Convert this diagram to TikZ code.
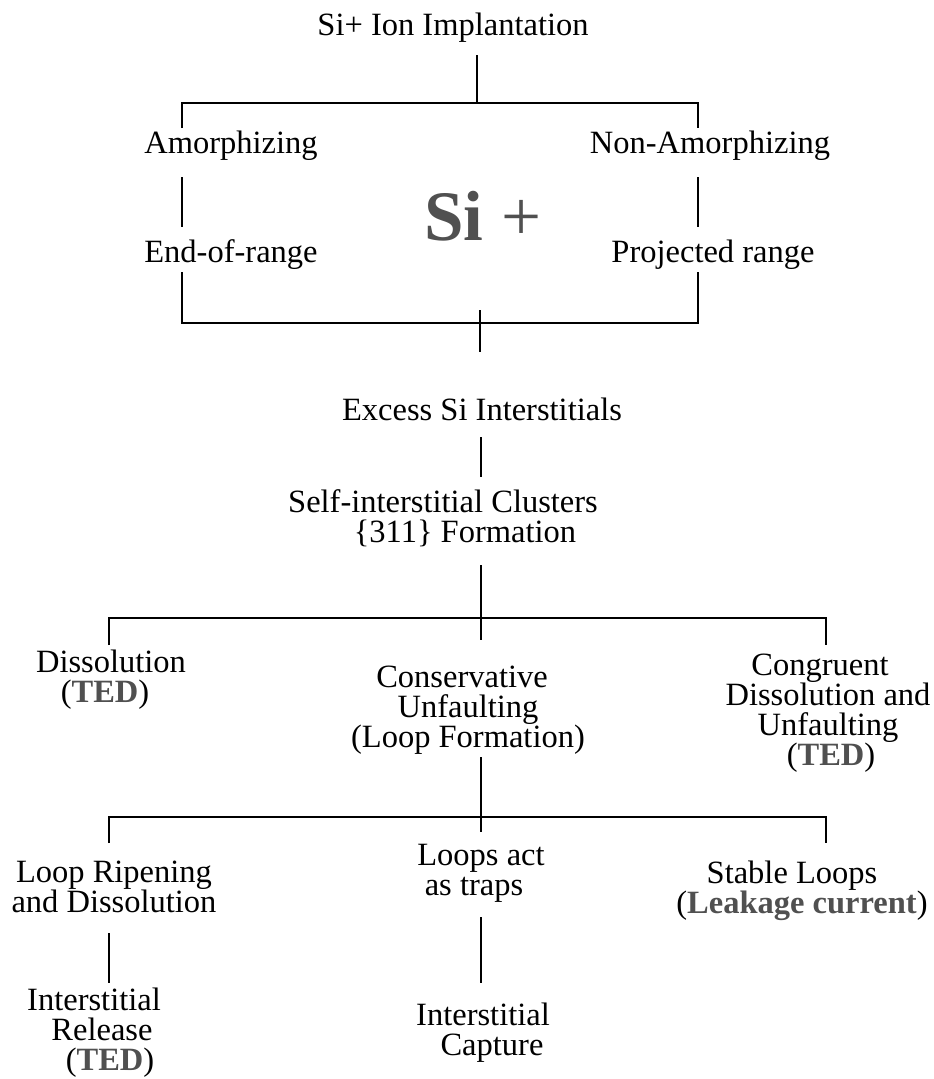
\documentclass[tikz,border=0pt]{standalone}
\usepackage{fontspec}
\setmainfont{Liberation Serif}
\usepackage{tikz}
\usetikzlibrary{positioning}
\definecolor{DarkGrey}{HTML}{505050}
\newcommand{\ted}[1]{\textcolor{DarkGrey}{\textbf{#1}}}

\begin{document}
\begin{tikzpicture}[x=1pt, y=-1pt]
    \tikzset{
      lbl/.style={inner sep=0pt, anchor=base, align=center, font=\fontsize{32.5}{30}\selectfont},
      branch/.style={line width=1.8pt}
    }
    \useasboundingbox (0,0) rectangle (934,1079);

    % texts (anchored at the baseline of the last line)
    \node[lbl] (implant) at (453,35) {Si+ Ion Implantation};
    \node[lbl] (amor) at (231,153) {Amorphizing};
    \node[lbl] (nonamor) at (710,153) {Non-Amorphizing};
    \node[lbl] (eor) at (231,262) {End-of-range};
    \node[lbl] (projr) at (713,262) {Projected range};
    \node[inner sep=0pt, anchor=base, font=\fontsize{71}{71}\selectfont, text=DarkGrey] (siplus) at (483,240) {\textbf{Si} +};
    \node[lbl] (excess) at (482,420) {Excess Si Interstitials};
    \node[lbl] (clusters) at (443,542) {Self-interstitial Clusters\\\hspace*{44pt}\{311\} Formation};
    \node[lbl] (dissol) at (111,702) {Dissolution\\(\ted{TED})\hspace*{12pt}};
    \node[lbl] (conserv) at (468,747) {Conservative\hspace*{12pt}\\Unfaulting\hspace*{12pt}\\(Loop Formation)};
    \node[lbl] (congru) at (828,765) {Congruent\hspace*{16pt}\\Dissolution and\\Unfaulting\hspace*{6pt}\\\hspace*{6pt}(\ted{TED})};
    \node[lbl] (ripen) at (114,912) {Loop Ripening\\and Dissolution};
    \node[lbl] (traps) at (481,895) {Loops act\\as traps\hspace*{14pt}};
    \node[lbl] (stable) at (802,913) {Stable Loops\hspace*{20pt}\\(\ted{Leakage current})};
    \node[lbl] (release) at (94,1070) {Interstitial\\\hspace*{16pt}Release\\\hspace*{32pt}(\ted{TED})};
    \node[lbl] (capture) at (483,1055) {Interstitial\\\hspace*{18pt}Capture};

    % line ends
    \coordinate (implant-s) at (477,55);
    \coordinate (top-mid) at (477,103);
    \coordinate (top-l) at (182,103);
    \coordinate (top-r) at (698,103);
    \coordinate (amor-n) at (182,128);
    \coordinate (nonamor-n) at (698,128);
    \coordinate (amor-s) at (182,177);
    \coordinate (eor-n) at (182,227);
    \coordinate (nonamor-s) at (698,177);
    \coordinate (projr-n) at (698,227);
    \coordinate (eor-s) at (182,272);
    \coordinate (projr-s) at (698,272);
    \coordinate (bot-l) at (182,323);
    \coordinate (bot-r) at (698,323);
    \coordinate (bot-mid-a) at (480,310);
    \coordinate (excess-n) at (480,352);
    \coordinate (excess-s) at (481,437);
    \coordinate (clusters-n) at (481,477);
    \coordinate (clusters-s) at (481,565);
    \coordinate (conserv-n) at (481,640);
    \coordinate (fork1-l) at (109,618);
    \coordinate (fork1-r) at (826,618);
    \coordinate (dissol-n) at (109,645);
    \coordinate (congru-n) at (826,645);
    \coordinate (conserv-s) at (481,757);
    \coordinate (traps-n) at (481,832);
    \coordinate (fork2-l) at (109,817);
    \coordinate (fork2-r) at (826,817);
    \coordinate (ripen-n) at (109,843);
    \coordinate (stable-n) at (826,843);
    \coordinate (ripen-s) at (109,933);
    \coordinate (release-n) at (109,983);
    \coordinate (traps-s) at (481,917);
    \coordinate (capture-n) at (481,983);

    % connectors
    \draw[branch] (implant-s) -- (top-mid);
    \draw[branch] (amor-n) -- (top-l) -- (top-r) -- (nonamor-n);
    \draw[branch] (amor-s) -- (eor-n);
    \draw[branch] (nonamor-s) -- (projr-n);
    \draw[branch] (eor-s) -- (bot-l) -- (bot-r) -- (projr-s);
    \draw[branch] (bot-mid-a) -- (excess-n);
    \draw[branch] (excess-s) -- (clusters-n);
    \draw[branch] (clusters-s) -- (conserv-n);
    \draw[branch] (dissol-n) -- (fork1-l) -- (fork1-r) -- (congru-n);
    \draw[branch] (conserv-s) -- (traps-n);
    \draw[branch] (ripen-n) -- (fork2-l) -- (fork2-r) -- (stable-n);
    \draw[branch] (ripen-s) -- (release-n);
    \draw[branch] (traps-s) -- (capture-n);
  \end{tikzpicture}
\end{document}
